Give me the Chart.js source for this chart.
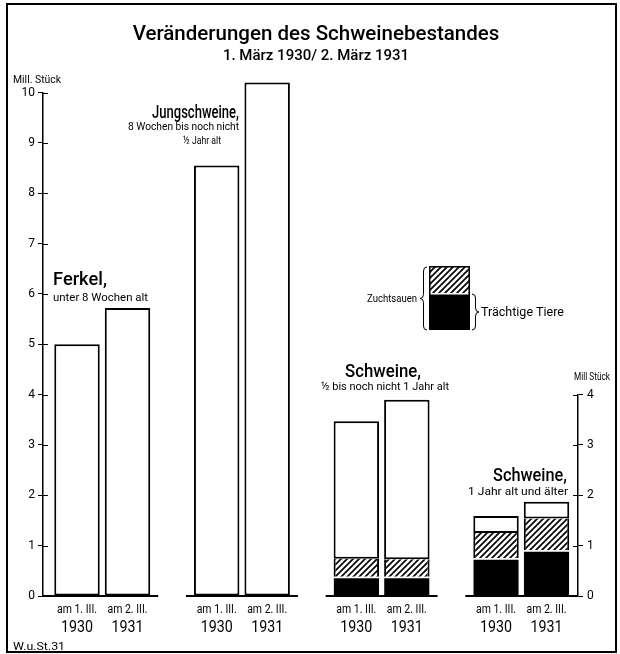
<!DOCTYPE html>
<html><head><meta charset="utf-8">
<script src="https://cdn.jsdelivr.net/npm/chart.js@4.4.1/dist/chart.umd.min.js"></script>
<style>
html,body{margin:0;padding:0;background:#fff;}
#wrap{position:relative;width:620px;height:654px;overflow:hidden;}
#frame{position:absolute;left:6px;top:3px;width:611px;height:650px;border:2px solid #000;box-sizing:border-box;pointer-events:none;}
canvas{position:absolute;left:0;top:0;}
</style></head><body>
<div id="wrap"><canvas id="c" width="620" height="654"></canvas><div id="frame"></div></div>
<script>
// ---- data (Mill. Stück) ----
const groups = ['Ferkel', 'Jungschweine', 'Schweine ½ bis noch nicht 1 Jahr alt', 'Schweine 1 Jahr alt und älter'];
const years = ['1930', '1931'];
const dateLabels = ['am 1. III.', 'am 2. III.'];
const total1930 = [5.0, 8.55, 3.47, 1.59];
const total1931 = [5.72, 10.2, 3.90, 1.87];
const traechtig1930 = [null, null, 0.38, 0.75];
const traechtig1931 = [null, null, 0.38, 0.91];
const zuchtNicht1930 = [null, null, 0.36, 0.50];
const zuchtNicht1931 = [null, null, 0.35, 0.63];
const groupTitles = ['Ferkel,', 'Jungschweine,', 'Schweine,', 'Schweine,'];
const groupSubtitles = [['unter 8 Wochen alt'], ['8 Wochen bis noch nicht', '½ Jahr alt'], ['½ bis noch nicht 1 Jahr alt'], ['1 Jahr alt und älter']];

const FONT = "Roboto,'Liberation Sans',sans-serif";

const cv = document.getElementById('c');
const c2d = cv.getContext('2d');
function makeHatch(){
  const s = 6, c = document.createElement('canvas'); c.width = s; c.height = s;
  const g = c.getContext('2d');
  g.fillStyle = '#fff'; g.fillRect(0,0,s,s);
  g.strokeStyle = '#000'; g.lineWidth = 1.7;
  g.beginPath();
  g.moveTo(-1, s+1); g.lineTo(s+1, -1);
  g.moveTo(-s/2-1, s/2+1); g.lineTo(s/2+1, -s/2-1);
  g.moveTo(s/2-1, s*1.5+1); g.lineTo(s*1.5+1, s/2-1);
  g.stroke();
  return c2d.createPattern(c, 'repeat');
}
const hatch = makeHatch();

const rest = (t, a, b) => t.map((v, i) => +(v - (a[i] || 0) - (b[i] || 0)).toFixed(3));
const pts = arr => arr.map((v, i) => ({x: i, y: v}));
const styles = {
  black: {backgroundColor: '#000', borderColor: '#fff', borderWidth: {top: 1.5, left: 0, right: 0, bottom: 0}, borderSkipped: false},
  hatch: {backgroundColor: hatch, borderColor: '#000', borderWidth: {top: 0, left: 2, right: 2, bottom: 0}, borderSkipped: false},
  white: {backgroundColor: '#fff', borderColor: '#000', borderWidth: 2, borderSkipped: false}
};
const mk = (label, arr, stack, kind) => Object.assign({label, data: pts(arr), stack, clip: false, categoryPercentage: 0.723, barPercentage: 0.9}, styles[kind]);

const datasets = [
  mk('Trächtige Tiere 1930', traechtig1930, '1930', 'black'),
  mk('Zuchtsauen, nicht trächtig 1930', zuchtNicht1930, '1930', 'hatch'),
  mk('Übrige 1930', rest(total1930, traechtig1930, zuchtNicht1930), '1930', 'white'),
  mk('Trächtige Tiere 1931', traechtig1931, '1931', 'black'),
  mk('Zuchtsauen, nicht trächtig 1931', zuchtNicht1931, '1931', 'hatch'),
  mk('Übrige 1931', rest(total1931, traechtig1931, zuchtNicht1931), '1931', 'white')
];

function brace(ctx, x0, y1, y2, dir, w){
  const ym = (y1 + y2) / 2, r = 4, xm = x0 + dir * w / 2, xt = x0 + dir * w;
  ctx.beginPath();
  ctx.moveTo(x0, y1);
  ctx.quadraticCurveTo(xm, y1, xm, y1 + r);
  ctx.lineTo(xm, ym - r);
  ctx.quadraticCurveTo(xm, ym, xt, ym);
  ctx.quadraticCurveTo(xm, ym, xm, ym + r);
  ctx.lineTo(xm, y2 - r);
  ctx.quadraticCurveTo(xm, y2, x0, y2);
  ctx.stroke();
}
// text squeezed horizontally to a target width (condensed lettering of the original)
function txt(ctx, s, x, y, size, align, base, width, weight){
  ctx.save();
  ctx.font = (weight || 'normal') + ' ' + size + 'px ' + FONT;
  ctx.textAlign = align || 'left';
  ctx.textBaseline = base || 'alphabetic';
  const m = ctx.measureText(s).width;
  const sx = width ? Math.min(1.15, width / m) : 1;
  ctx.translate(x, y); ctx.scale(sx, 1);
  ctx.fillText(s, 0, 0);
  ctx.restore();
}

const annot = {
  id: 'annot',
  afterDraw(chart){
    const {ctx, chartArea: ca, scales} = chart;
    const ys = scales.y, y2 = scales.y2;
    ctx.save();
    ctx.strokeStyle = '#000'; ctx.fillStyle = '#000';
    // inner halves of the cross ticks
    ctx.lineWidth = 1;
    ys.ticks.forEach(t => { const p = Math.round(ys.getPixelForValue(t.value)) + 0.5; ctx.beginPath(); ctx.moveTo(ca.left, p); ctx.lineTo(ca.left + 5, p); ctx.stroke(); });
    y2.ticks.forEach(t => { const p = Math.round(y2.getPixelForValue(t.value)) + 0.5; ctx.beginPath(); ctx.moveTo(ca.right - 5, p); ctx.lineTo(ca.right, p); ctx.stroke(); });
    // baselines per group + date labels under each bar
    const w30 = chart.getDatasetMeta(2).data, w31 = chart.getDatasetMeta(5).data;
    const yb = ys.getPixelForValue(0);
    ctx.lineWidth = 2;
    groups.forEach((g, i) => {
      const a = w30[i], b = w31[i];
      let l = a.x - a.width / 2 - 8, r = b.x + b.width / 2 + 8;
      if (i === 0) l = ca.left;
      if (i === groups.length - 1) r = ca.right;
      ctx.beginPath(); ctx.moveTo(l, yb); ctx.lineTo(r, yb); ctx.stroke();
      [a, b].forEach((el, k) => {
        txt(ctx, dateLabels[k], el.x, yb + 14, 12, 'center', 'middle', 40);
        txt(ctx, years[k], el.x, yb + 32, 16, 'center', 'middle', 32);
      });
    });
    // axis units
    txt(ctx, 'Mill. Stück', 13, 83, 10, 'left', 'alphabetic', 48);
    txt(ctx, 'Mill Stück', 574, 380, 10, 'left', 'alphabetic', 36);
    // group labels
    txt(ctx, groupTitles[0], 53, 285, 18, 'left', 'alphabetic', 54, '500');
    txt(ctx, groupSubtitles[0][0], 53, 301, 11, 'left', 'alphabetic', 95);
    txt(ctx, groupTitles[1], 239, 118, 18, 'right', 'alphabetic', 87, '500');
    txt(ctx, groupSubtitles[1][0], 239, 130, 11, 'right', 'alphabetic', 111);
    txt(ctx, groupSubtitles[1][1], 221, 144, 11, 'right', 'alphabetic', 38);
    txt(ctx, groupTitles[2], 383, 377, 18, 'center', 'alphabetic', 76, '500');
    txt(ctx, groupSubtitles[2][0], 385, 390, 11, 'center', 'alphabetic', 128);
    txt(ctx, groupTitles[3], 530, 481, 18, 'center', 'alphabetic', 74, '500');
    txt(ctx, groupSubtitles[3][0], 518, 495, 11, 'center', 'alphabetic', 100);
    // legend
    const lx = 429, lt = 266, lw = 41, lm = 293, lb = 330;
    ctx.fillStyle = '#000'; ctx.fillRect(lx, lt, lw, lb - lt);
    ctx.fillStyle = hatch; ctx.fillRect(lx + 1.5, lt + 1.5, lw - 3, lm - lt - 1.5);
    ctx.fillStyle = '#fff'; ctx.fillRect(lx + 1.5, lm, lw - 3, 1.5);
    ctx.fillStyle = '#000';
    ctx.lineWidth = 1;
    brace(ctx, 427, lt + 1, lb, -1, 7);
    brace(ctx, 472, lm + 1, lb, 1, 7);
    txt(ctx, 'Zuchtsauen', 417, (lt + lb) / 2 + 1, 11, 'right', 'middle', 50);
    txt(ctx, 'Trächtige Tiere', 481, (lm + lb) / 2 + 1, 12, 'left', 'middle', 83);
    // source
    txt(ctx, 'W.u.St.31', 13, 650, 11, 'left', 'alphabetic', 52);
    ctx.restore();
  }
};

const tickFont = {family: FONT, size: 12};
new Chart(cv, {
  type: 'bar',
  data: {datasets},
  plugins: [annot],
  options: {
    responsive: false,
    animation: false,
    events: [],
    layout: {padding: {left: 12, right: 0, top: 0, bottom: 0}},
    plugins: {
      legend: {display: false},
      tooltip: {enabled: false},
      title: {display: true, text: 'Veränderungen des Schweinebestandes', color: '#000',
        font: {family: FONT, size: 20.5, weight: '500', lineHeight: 1.2}, padding: {top: 23, bottom: 0}},
      subtitle: {display: true, text: '1. März 1930/ 2. März 1931', color: '#000',
        font: {family: FONT, size: 15, weight: '500', lineHeight: 1.2}, padding: {top: 0, bottom: 27}}
    },
    scales: {
      x: {type: 'linear', offset: false, min: -0.4242, max: 3.4062,
          afterBuildTicks: s => { s.ticks = groups.map((g, i) => ({value: i})); },
          ticks: {display: false}, grid: {display: false, offset: false}, border: {display: false},
          afterFit: s => { s.height = 58; }},
      y: {type: 'linear', position: 'left', min: 0, max: 10, stacked: true,
          ticks: {stepSize: 1, color: '#000', font: tickFont, padding: 3},
          grid: {drawOnChartArea: false, drawTicks: true, tickLength: 5, color: '#000', lineWidth: 1},
          border: {display: true, color: '#000', width: 1.5},
          afterFit: s => { s.width = 31; }},
      y2top: {type: 'linear', position: 'right', stack: 'right', stackWeight: 6, display: false},
      y2: {type: 'linear', position: 'right', stack: 'right', stackWeight: 4, min: 0, max: 4,
          ticks: {stepSize: 1, color: '#000', font: tickFont, padding: 4},
          grid: {drawOnChartArea: false, drawTicks: true, tickLength: 5, color: '#000', lineWidth: 1},
          border: {display: true, color: '#000', width: 1.5},
          afterFit: s => { s.width = 42; }}
    }
  }
});
</script>
</body></html>
